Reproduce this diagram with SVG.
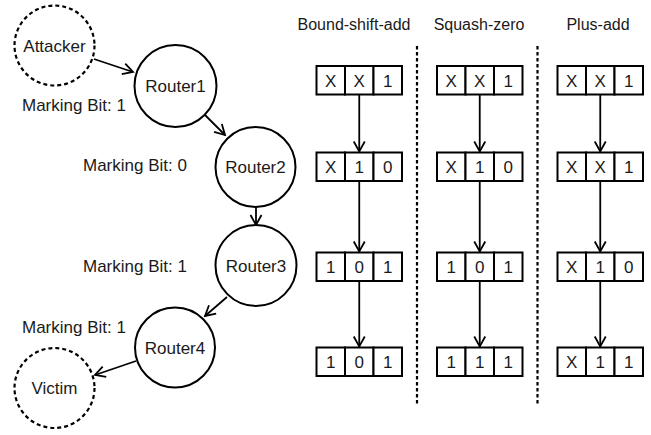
<svg xmlns="http://www.w3.org/2000/svg" width="651" height="435" viewBox="0 0 651 435">
  <defs>
    <marker id="arrow" markerUnits="userSpaceOnUse" markerWidth="14" markerHeight="14" viewBox="-12 -7 14 14" refX="0" refY="0" orient="auto">
      <path d="M-10,-5.5 L0,0 L-10,5.5" fill="none" stroke="#000" stroke-width="1.8"/>
    </marker>
    <style>
      .node { fill: #fff; stroke: #000; stroke-width: 2; }
      .host { fill: #fff; stroke: #000; stroke-width: 2.2; stroke-dasharray: 4 3; }
      .label { font-family: "Liberation Sans", Arial, sans-serif; font-size: 17px; fill: #1a1a1a; }
      .center { text-anchor: middle; }
      .head { font-family: "Liberation Sans", Arial, sans-serif; font-size: 16px; fill: #1a1a1a; text-anchor: middle; }
      .cell { fill: #fff; stroke: #000; stroke-width: 2; }
      .bit { font-family: "Liberation Sans", Arial, sans-serif; font-size: 17px; fill: #1a1a1a; text-anchor: middle; }
      .edge { fill: none; stroke: #000; stroke-width: 1.8; marker-end: url(#arrow); }
      .divider { fill: none; stroke: #000; stroke-width: 2.2; stroke-dasharray: 3.5 2.5; }
    </style>
    <g id="reg">
      <rect class="cell" x="0" y="0" width="28.5" height="28.5"/>
      <rect class="cell" x="28.5" y="0" width="28.5" height="28.5"/>
      <rect class="cell" x="57" y="0" width="28.5" height="28.5"/>
    </g>
  </defs>

  <rect width="651" height="435" fill="#fff"/>

  <!-- path connectors -->
  <g id="connectors">
    <line class="edge" x1="94" y1="59" x2="133" y2="72"/>
    <line class="edge" x1="205" y1="115" x2="225" y2="135"/>
    <line class="edge" x1="256" y1="206" x2="256" y2="225"/>
    <line class="edge" x1="227" y1="297" x2="205" y2="316"/>
    <line class="edge" x1="136" y1="361" x2="95" y2="375"/>
  </g>

  <!-- hosts and routers -->
  <g id="attacker">
    <circle class="host" cx="54.5" cy="45.5" r="40"/>
    <text class="label center" x="54.5" y="51.5">Attacker</text>
  </g>
  <g id="router1">
    <circle class="node" cx="175.5" cy="86" r="41"/>
    <text class="label center" x="175.5" y="92">Router1</text>
  </g>
  <g id="router2">
    <circle class="node" cx="255.5" cy="167" r="40"/>
    <text class="label center" x="255.5" y="173">Router2</text>
  </g>
  <g id="router3">
    <circle class="node" cx="256" cy="265.5" r="40.5"/>
    <text class="label center" x="256" y="271.5">Router3</text>
  </g>
  <g id="router4">
    <circle class="node" cx="175" cy="347.5" r="40"/>
    <text class="label center" x="175" y="353.5">Router4</text>
  </g>
  <g id="victim">
    <circle class="host" cx="54.5" cy="388" r="40"/>
    <text class="label center" x="54.5" y="394">Victim</text>
  </g>

  <!-- marking bit labels -->
  <g id="marks">
    <text class="label" x="22" y="111">Marking Bit: 1</text>
    <text class="label" x="83" y="171">Marking Bit: 0</text>
    <text class="label" x="83" y="272">Marking Bit: 1</text>
    <text class="label" x="22" y="333">Marking Bit: 1</text>
  </g>

  <!-- scheme columns -->
  <g id="dividers">
    <line class="divider" x1="417" y1="46" x2="417" y2="405"/>
    <line class="divider" x1="537.5" y1="46" x2="537.5" y2="405"/>
  </g>

  <g id="bound-shift-add">
    <text class="head" x="354" y="30">Bound-shift-add</text>
    <use href="#reg" x="316.5" y="66"/>
    <use href="#reg" x="316.5" y="152.5"/>
    <use href="#reg" x="316.5" y="252.5"/>
    <use href="#reg" x="316.5" y="347.5"/>
    <line class="edge" x1="359.25" y1="94.5" x2="359.25" y2="151.5"/>
    <line class="edge" x1="359.25" y1="181" x2="359.25" y2="251.5"/>
    <line class="edge" x1="359.25" y1="281" x2="359.25" y2="346.5"/>
    <text class="bit" x="330.75" y="86.5">X</text><text class="bit" x="359.25" y="86.5">X</text><text class="bit" x="387.75" y="86.5">1</text>
    <text class="bit" x="330.75" y="173">X</text><text class="bit" x="359.25" y="173">1</text><text class="bit" x="387.75" y="173">0</text>
    <text class="bit" x="330.75" y="273">1</text><text class="bit" x="359.25" y="273">0</text><text class="bit" x="387.75" y="273">1</text>
    <text class="bit" x="330.75" y="368">1</text><text class="bit" x="359.25" y="368">0</text><text class="bit" x="387.75" y="368">1</text>
  </g>

  <g id="squash-zero">
    <text class="head" x="479" y="30">Squash-zero</text>
    <use href="#reg" x="437" y="66"/>
    <use href="#reg" x="437" y="152.5"/>
    <use href="#reg" x="437" y="252.5"/>
    <use href="#reg" x="437" y="347.5"/>
    <line class="edge" x1="479.75" y1="94.5" x2="479.75" y2="151.5"/>
    <line class="edge" x1="479.75" y1="181" x2="479.75" y2="251.5"/>
    <line class="edge" x1="479.75" y1="281" x2="479.75" y2="346.5"/>
    <text class="bit" x="451.25" y="86.5">X</text><text class="bit" x="479.75" y="86.5">X</text><text class="bit" x="508.25" y="86.5">1</text>
    <text class="bit" x="451.25" y="173">X</text><text class="bit" x="479.75" y="173">1</text><text class="bit" x="508.25" y="173">0</text>
    <text class="bit" x="451.25" y="273">1</text><text class="bit" x="479.75" y="273">0</text><text class="bit" x="508.25" y="273">1</text>
    <text class="bit" x="451.25" y="368">1</text><text class="bit" x="479.75" y="368">1</text><text class="bit" x="508.25" y="368">1</text>
  </g>

  <g id="plus-add">
    <text class="head" x="598" y="30">Plus-add</text>
    <use href="#reg" x="557.5" y="66"/>
    <use href="#reg" x="557.5" y="152.5"/>
    <use href="#reg" x="557.5" y="252.5"/>
    <use href="#reg" x="557.5" y="347.5"/>
    <line class="edge" x1="600.25" y1="94.5" x2="600.25" y2="151.5"/>
    <line class="edge" x1="600.25" y1="181" x2="600.25" y2="251.5"/>
    <line class="edge" x1="600.25" y1="281" x2="600.25" y2="346.5"/>
    <text class="bit" x="571.75" y="86.5">X</text><text class="bit" x="600.25" y="86.5">X</text><text class="bit" x="628.75" y="86.5">1</text>
    <text class="bit" x="571.75" y="173">X</text><text class="bit" x="600.25" y="173">X</text><text class="bit" x="628.75" y="173">1</text>
    <text class="bit" x="571.75" y="273">X</text><text class="bit" x="600.25" y="273">1</text><text class="bit" x="628.75" y="273">0</text>
    <text class="bit" x="571.75" y="368">X</text><text class="bit" x="600.25" y="368">1</text><text class="bit" x="628.75" y="368">1</text>
  </g>
</svg>
